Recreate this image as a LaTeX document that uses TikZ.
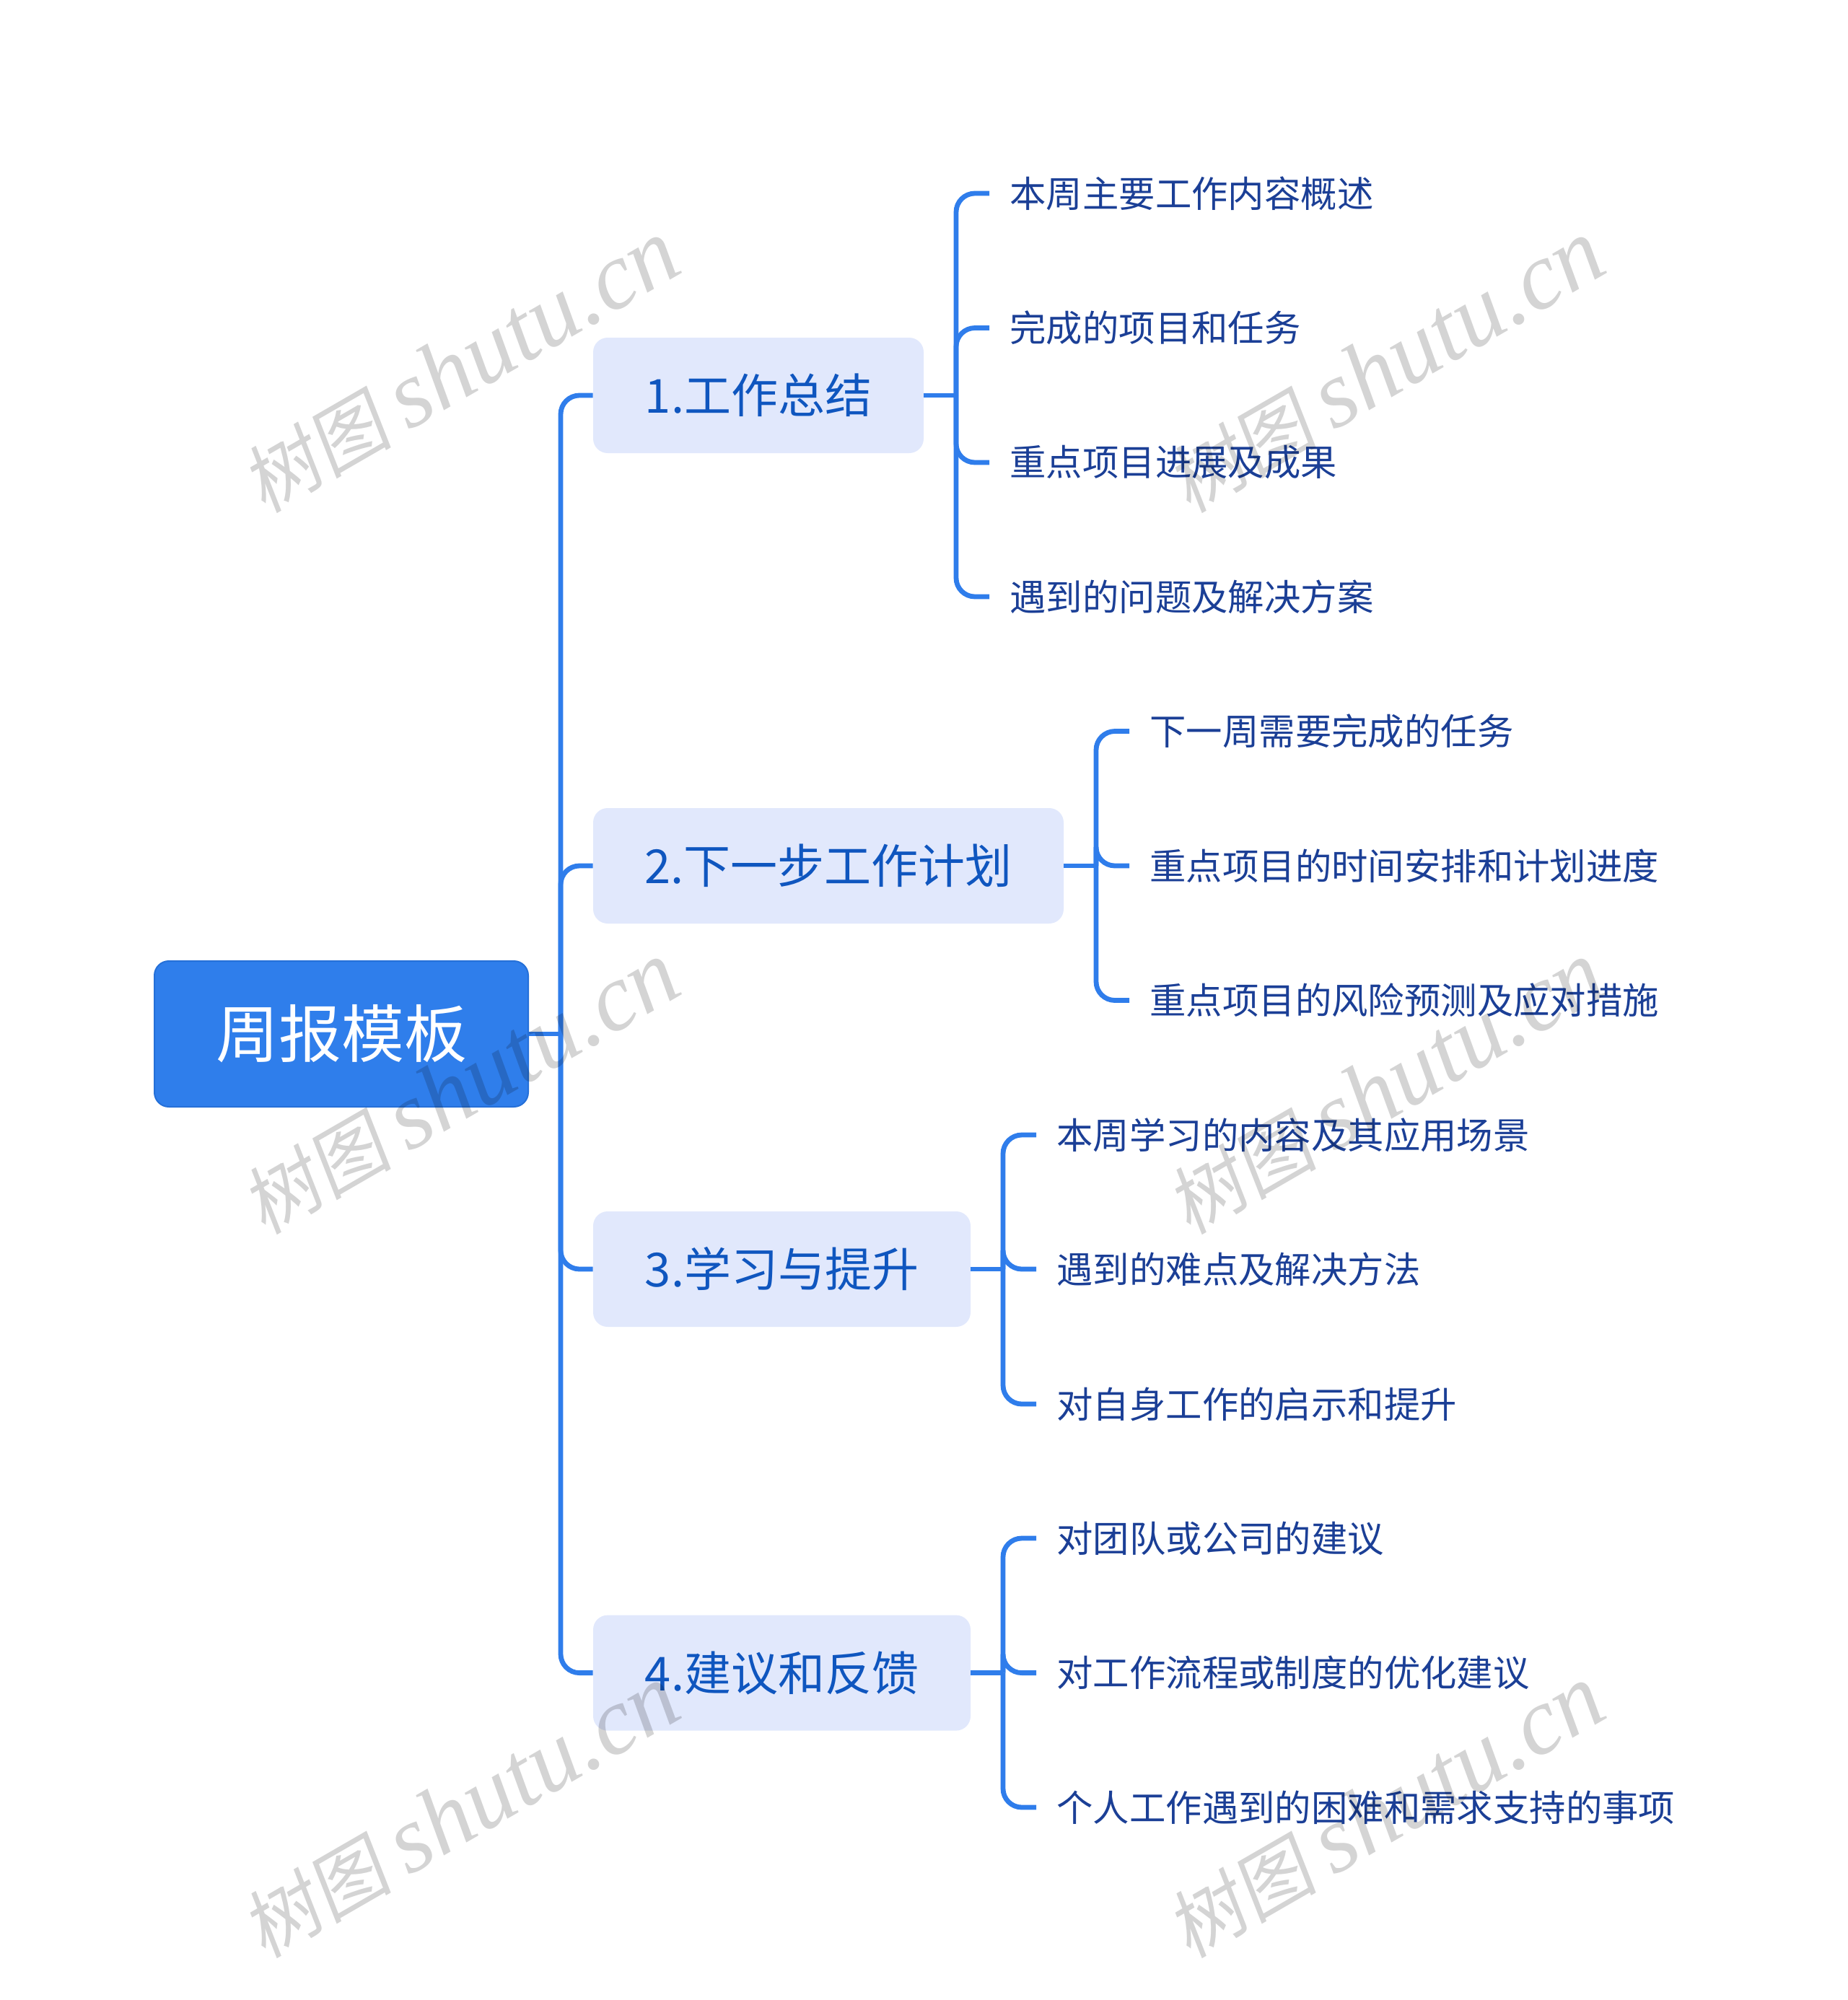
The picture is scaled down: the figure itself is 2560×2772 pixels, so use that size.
\documentclass[tikz,border=0pt]{standalone}
\usepackage{fontspec}
\setmainfont{Noto Sans CJK SC}
\newfontfamily\wmcjk[FakeSlant=0.15]{Noto Sans CJK SC}
\newfontfamily\wmlat{Liberation Serif}[ItalicFont=* Italic]
\definecolor{linec}{HTML}{2F7DEB}
\definecolor{rootc}{HTML}{2F7EEB}
\definecolor{rootb}{HTML}{2570D8}
\definecolor{boxc}{HTML}{E1E8FC}
\definecolor{boxt}{HTML}{0F56BF}
\definecolor{leaft}{HTML}{1B3F96}
\tikzset{
 rootnode/.style={fill=rootc,draw=rootb,line width=1pt,rounded corners=10pt,text=white,font=\fontsize{43.5pt}{50pt}\selectfont,inner sep=0pt,minimum width=259pt,minimum height=101pt},
 topic/.style={fill=boxc,rounded corners=10pt,text=boxt,font=\fontsize{32.5pt}{38pt}\selectfont,inner sep=0pt,minimum height=80pt},
 leaf/.style={anchor=west,text=leaft,font=\fontsize{25.2pt}{30pt}\selectfont,inner ysep=0pt,inner xsep=14pt},
 conn/.style={draw=linec,line width=3.4pt,rounded corners=13pt},
 wm/.style={rotate=30,text=black,text opacity=0.17,inner sep=0pt},
}
\newcommand{\wmtext}{{\fontsize{52pt}{64pt}\selectfont\wmcjk 树图 \fontsize{66pt}{70pt}\selectfont\wmlat\itshape shutu.cn}}
\begin{document}
\begin{tikzpicture}[x=0.5pt,y=-0.5pt]
\useasboundingbox (0,0) rectangle (2560,2772);
% spines
\coordinate (s0) at (777,1433);
\coordinate (s1) at (1325,548);
\coordinate (s2) at (1519,1200);
\coordinate (s3) at (1390,1759);
\coordinate (s4) at (1390,2318.6);
% nodes
\node[rootnode] (root) at (473,1433) {周报模板};
\node[topic,minimum width=229pt] (t1) at (1051,548) {1.工作总结};
\node[topic,minimum width=326pt] (t2) at (1148,1200) {2.下一步工作计划};
\node[topic,minimum width=261.5pt] (t3) at (1083.5,1759) {3.学习与提升};
\node[topic,minimum width=261.5pt] (t4) at (1083.5,2318.6) {4.建议和反馈};
\node[leaf] (a1) at (1371,268) {本周主要工作内容概述};
\node[leaf] (a2) at (1371,454.5) {完成的项目和任务};
\node[leaf] (a3) at (1371,641) {重点项目进展及成果};
\node[leaf] (a4) at (1371,827) {遇到的问题及解决方案};
\node[leaf] (b1) at (1565,1013.5) {下一周需要完成的任务};
\node[leaf] (b2) at (1565,1200) {重点项目的时间安排和计划进度};
\node[leaf] (b3) at (1565,1386.5) {重点项目的风险预测及应对措施};
\node[leaf] (c1) at (1436,1573) {本周学习的内容及其应用场景};
\node[leaf] (c2) at (1436,1759) {遇到的难点及解决方法};
\node[leaf] (c3) at (1436,1946) {对自身工作的启示和提升};
\node[leaf] (d1) at (1436,2132) {对团队或公司的建议};
\node[leaf] (d2) at (1436,2318.6) {对工作流程或制度的优化建议};
\node[leaf] (d3) at (1436,2505) {个人工作遇到的困难和需求支持的事项};
% connectors
\draw[conn] (root.east) -- (s0);
\foreach \t in {t1,t2,t3,t4} \draw[conn] (s0) |- (\t.west);
\draw[conn] (t1.east) -- (s1);
\foreach \t in {a1,a2,a3,a4} \draw[conn] (s1) |- (\t.west);
\draw[conn] (t2.east) -- (s2);
\foreach \t in {b1,b2,b3} \draw[conn] (s2) |- (\t.west);
\draw[conn] (t3.east) -- (s3);
\foreach \t in {c1,c2,c3} \draw[conn] (s3) |- (\t.west);
\draw[conn] (t4.east) -- (s4);
\foreach \t in {d1,d2,d3} \draw[conn] (s4) |- (\t.west);
% watermarks
\node[wm] (w1) at (638,508) {\wmtext};
\node[wm] (w2) at (1920,508) {\wmtext};
\node[wm] (w3) at (638,1508) {\wmtext};
\node[wm] (w4) at (1920,1508) {\wmtext};
\node[wm] (w5) at (638,2511) {\wmtext};
\node[wm] (w6) at (1920,2511) {\wmtext};
\end{tikzpicture}
\end{document}
